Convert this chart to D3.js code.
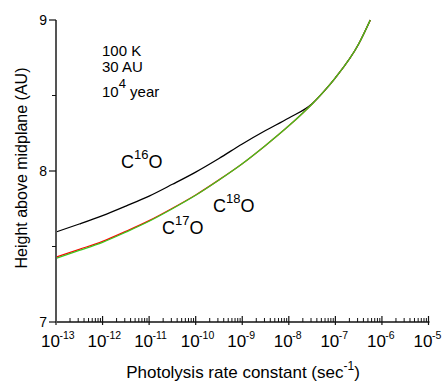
<!DOCTYPE html>
<html>
<head>
<meta charset="utf-8">
<script src="https://cdn.jsdelivr.net/npm/d3@7"></script>
<style>
  html, body { margin: 0; padding: 0; background: #fff; }
  svg { display: block; font-family: "Liberation Sans", Arial, sans-serif; }
</style>
</head>
<body>
<div id="chart"></div>
<script>
// photolysis height chart: three CO isotopologues vs rate constant
const rateExp = [-13, -12.5, -12, -11.5, -11, -10.5, -10, -9.5, -9, -8.5, -8, -7.5, -7.25, -7, -6.5, -6.25];
const c16o = [7.596, 7.649, 7.705, 7.768, 7.834, 7.912, 7.993, 8.083, 8.179, 8.268, 8.351, 8.446, 8.526, 8.617, 8.841, 9.0];
const c17o = [7.429, 7.481, 7.534, 7.600, 7.671, 7.753, 7.841, 7.941, 8.048, 8.169, 8.299, 8.444, 8.526, 8.617, 8.841, 9.0];
const c18o = [7.422, 7.474, 7.528, 7.595, 7.667, 7.750, 7.839, 7.940, 8.048, 8.169, 8.299, 8.444, 8.526, 8.617, 8.841, 9.0];
const xTickExp = [-13, -12, -11, -10, -9, -8, -7, -6, -5];
const yTicks = [7, 8, 9];
const yMinor = [7.5, 8.5];

(function () {
  const width = 442;
  const height = 385;
  const left = 56, right = 428.5, top = 20, bottom = 322;

  const svg = d3.select("#chart").append("svg")
    .attr("width", width)
    .attr("height", height);

  const x = d3.scaleLog().domain([1e-13, 1e-5]).range([left, right]);
  const y = d3.scaleLinear().domain([7, 9]).range([bottom, top]);

  const line = d3.line()
    .x((d) => x(Math.pow(10, d[0])))
    .y((d) => y(d[1]))
    .curve(d3.curveMonotoneX);

  const series = [
    { vals: c16o, color: "#000000" },
    { vals: c17o, color: "#ff0000" },
    { vals: c18o, color: "#3cc81e" },
  ];

  svg.append("g")
    .selectAll("path")
    .data(series)
    .join("path")
    .attr("d", (s) => line(rateExp.map((e, i) => [e, s.vals[i]])))
    .attr("fill", "none")
    .attr("stroke", (s) => s.color)
    .attr("stroke-width", 1.3);

  // x axis
  const xg = svg.append("g");
  xg.append("line")
    .attr("x1", left - 1).attr("x2", right + 1)
    .attr("y1", bottom).attr("y2", bottom)
    .attr("stroke", "#111").attr("stroke-width", 1.5);

  const minor = [];
  xTickExp.slice(0, -1).forEach((e) => {
    for (let m = 2; m <= 9; m++) minor.push(m * Math.pow(10, e));
  });
  xg.selectAll("line.minor")
    .data(minor)
    .join("line")
    .attr("class", "minor")
    .attr("x1", (d) => x(d)).attr("x2", (d) => x(d))
    .attr("y1", bottom).attr("y2", bottom - 4)
    .attr("stroke", "#111").attr("stroke-width", 1);

  xg.selectAll("line.major")
    .data(xTickExp)
    .join("line")
    .attr("class", "major")
    .attr("x1", (d) => x(Math.pow(10, d))).attr("x2", (d) => x(Math.pow(10, d)))
    .attr("y1", bottom + 3).attr("y2", bottom - 6)
    .attr("stroke", "#111").attr("stroke-width", 1.2);

  const xl = xg.selectAll("text")
    .data(xTickExp)
    .join("text")
    .attr("x", (d) => x(Math.pow(10, d)) - 15)
    .attr("y", 347)
    .attr("font-size", 17)
    .attr("fill", "#000");
  xl.append("tspan").text("10");
  xl.append("tspan").attr("dy", -8).attr("dx", -0.5).attr("font-size", 10.5).text((d) => d);

  // y axis
  const yg = svg.append("g");
  yg.append("line")
    .attr("x1", left).attr("x2", left)
    .attr("y1", top).attr("y2", bottom + 1)
    .attr("stroke", "#555").attr("stroke-width", 2);
  yg.selectAll("line.major")
    .data(yTicks)
    .join("line")
    .attr("class", "major")
    .attr("x1", left).attr("x2", left - 7)
    .attr("y1", (d) => y(d)).attr("y2", (d) => y(d))
    .attr("stroke", "#111").attr("stroke-width", 1.2);
  yg.selectAll("line.minor")
    .data(yMinor)
    .join("line")
    .attr("class", "minor")
    .attr("x1", left).attr("x2", left - 4)
    .attr("y1", (d) => y(d)).attr("y2", (d) => y(d))
    .attr("stroke", "#111").attr("stroke-width", 1);
  yg.selectAll("text")
    .data(yTicks)
    .join("text")
    .attr("x", 47)
    .attr("y", (d) => y(d) + 5)
    .attr("text-anchor", "end")
    .attr("font-size", 14)
    .text((d) => d);

  // axis titles
  const xt = svg.append("text")
    .attr("x", 243)
    .attr("y", 378)
    .attr("text-anchor", "middle")
    .attr("font-size", 17);
  xt.append("tspan").text("Photolysis rate constant (sec");
  xt.append("tspan").attr("dy", -8).attr("font-size", 12).text("-1");
  xt.append("tspan").attr("dy", 8).text(")");

  svg.append("text")
    .attr("transform", "translate(27,168) rotate(-90)")
    .attr("text-anchor", "middle")
    .attr("font-size", 16)
    .text("Height above midplane (AU)");

  // annotations
  const note = svg.append("g").attr("font-size", 15);
  note.append("text").attr("x", 102).attr("y", 56).text("100 K");
  note.append("text").attr("x", 102).attr("y", 72).text("30 AU");
  const yr = note.append("text").attr("x", 102).attr("y", 97);
  yr.append("tspan").text("10");
  yr.append("tspan").attr("dy", -9).attr("font-size", 13).text("4");
  yr.append("tspan").attr("dy", 9).text(" year");

  const labels = [
    { x: 121, y: 168, mass: "16" },
    { x: 162, y: 234, mass: "17" },
    { x: 213, y: 212, mass: "18" },
  ];
  const lab = svg.append("g")
    .selectAll("text")
    .data(labels)
    .join("text")
    .attr("x", (d) => d.x)
    .attr("y", (d) => d.y)
    .attr("font-size", 18);
  lab.append("tspan").text("C");
  lab.append("tspan").attr("dy", -9).attr("font-size", 13).text((d) => d.mass);
  lab.append("tspan").attr("dy", 9).text("O");
})();
</script>
</body>
</html>
